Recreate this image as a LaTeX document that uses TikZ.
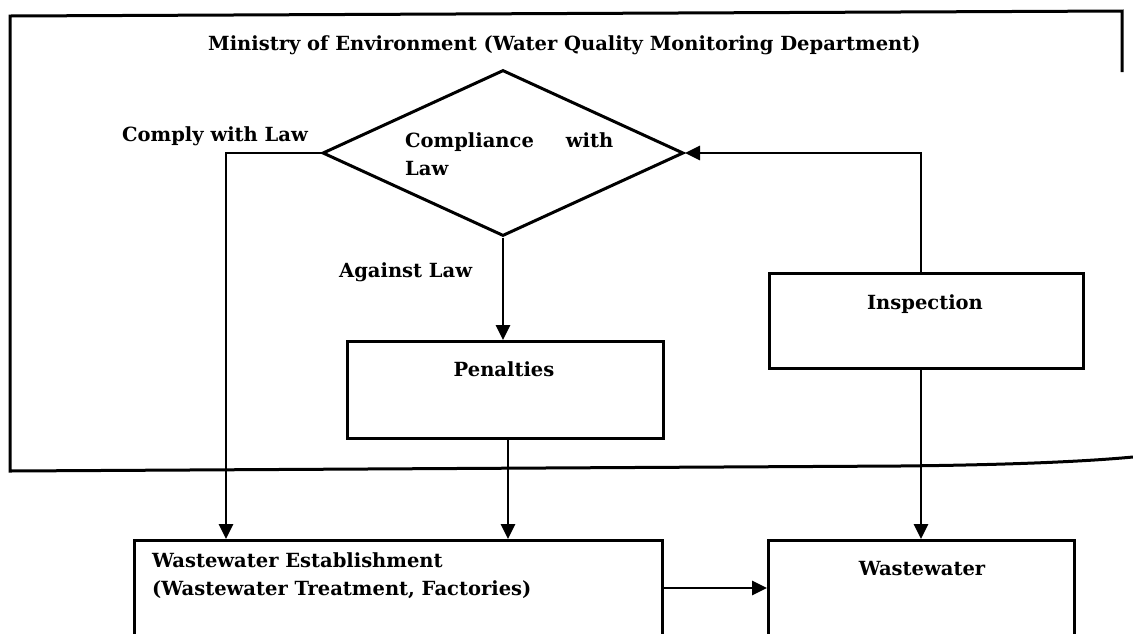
\documentclass[tikz,border=0pt]{standalone}
\usepackage{fontspec}
\setmainfont{DejaVu Serif}
\usetikzlibrary{arrows.meta,shapes.geometric}

\tikzset{
  frame/.style={line width=3pt},
  box/.style={draw, line width=3pt, inner sep=0pt, anchor=north west},
  decision/.style={draw, diamond, line width=3pt, inner sep=0pt,
    minimum width=361pt, minimum height=166pt, aspect=2.17},
  arr/.style={line width=2.8pt, -{Triangle[length=15pt,width=14pt]}},
  txt/.style={inner sep=0pt, anchor=base west, font=\fontsize{19.5}{28}\selectfont\bfseries},
}

\begin{document}
\begin{tikzpicture}[x=1pt,y=-1pt]
\useasboundingbox (0,0) rectangle (1133,633);
\fill[white] (0,0) rectangle (1133,633);
\clip (0,0) rectangle (1133,633);

% ministry frame, open at the lower right
\draw[frame] (1122,72) -- (1122,11) -- (10,16) -- (10,471) -- (900,466)
  .. controls (1000,465) and (1080,462) .. (1133,457);
\node[txt] (title) at (208,50) {Ministry of Environment (Water Quality Monitoring Department)};

% decision diamond
\node[decision] (dia) at (503,153) {};
\node[txt] (dq1) at (405,147) {\makebox[208pt][s]{Compliance with}};
\node[txt] (dq2) at (405,175) {Law};

% boxes
\node[box, minimum width=316pt, minimum height=97pt] (pen) at (346,340) {};
\node[txt, anchor=base] (pent) at (504,376) {Penalties};
\node[box, minimum width=314pt, minimum height=95pt] (insp) at (768,272) {};
\node[txt, anchor=base] (inspt) at (925,309) {Inspection};
\node[box, minimum width=528pt, minimum height=130pt] (est) at (133,539) {};
\node[txt] (est1) at (152,567) {Wastewater Establishment};
\node[txt] (est2) at (152,595) {(Wastewater Treatment, Factories)};
\node[box, minimum width=306pt, minimum height=130pt] (ww) at (767,539) {};
\node[txt, anchor=base] (wwt) at (922,575) {Wastewater};

% branch labels
\node[txt] (comply) at (122,141) {Comply with Law};
\node[txt] (against) at (339,277) {Against Law};

% connectors
\coordinate (cl) at (226,155);
\coordinate (ir) at (921,0);
\draw[arr] (dia.west) -| (est.north -| cl);
\draw[arr] (dia.south) -- (pen.north -| dia.south);
\draw[arr] (pen.south -| 508,0) -- (est.north -| 508,0);
\draw[arr] (insp.north -| ir) |- (dia.east);
\draw[arr] (insp.south -| ir) -- (ww.north -| ir);
\coordinate (hr) at (0,588);
\draw[arr] (est.east |- hr) -- (ww.west |- hr);
\end{tikzpicture}
\end{document}
